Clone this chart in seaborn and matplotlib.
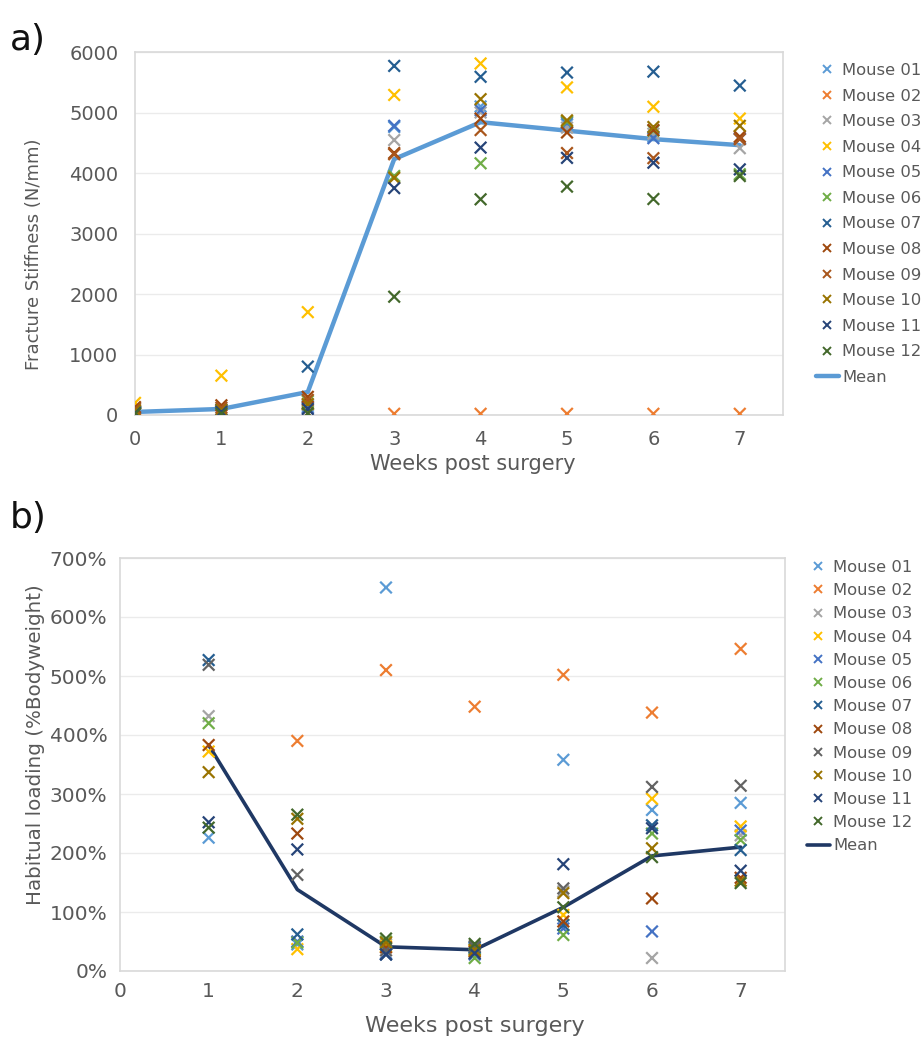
import numpy as np
import pandas as pd
import matplotlib
matplotlib.use("Agg")
import matplotlib.pyplot as plt
from matplotlib.lines import Line2D
import seaborn as sns

sns.set_theme(style="white")
plt.rcParams["font.family"] = ["DejaVu Sans"]

# ---------------------------------------------------------------- data
mice = [f"Mouse {i:02d}" for i in range(1, 13)]

weeks_a = [0, 1, 2, 3, 4, 5, 6, 7]
# fracture stiffness (N/mm), one list per week, values for Mouse 01..12
stiff_w0 = [40, 20, 50, 200, 60, 40, 50, 130, 100, 70, 30, 20]
stiff_w1 = [80, 30, 70, 650, 60, 50, 90, 160, 120, 80, 50, 20]
stiff_w2 = [150, 30, 180, 1700, 120, 230, 800, 300, 250, 180, 100, 30]
stiff_w3 = [4760, 20, 4545, 5290, 4780, 3950, 5770, 4330, 4310, 3920, 3750, 1955]
stiff_w4 = [5100, 20, 5000, 5810, 5040, 4160, 5590, 4900, 4710, 5220, 4420, 3565]
stiff_w5 = [4800, 20, 4750, 5415, 4830, 4850, 5660, 4670, 4330, 4870, 4250, 3775]
stiff_w6 = [4600, 20, 4650, 5095, 4575, 4700, 5675, 4710, 4245, 4760, 4170, 3570]
stiff_w7 = [4560, 20, 4410, 4900, 4570, 3980, 5445, 4600, 4560, 4780, 4060, 3950]
stiff_mean = [50, 100, 380, 4230, 4840, 4700, 4560, 4460]

weeks_b = [1, 2, 3, 4, 5, 6, 7]
# habitual loading (% bodyweight), one list per week, Mouse 01..12
load_w1 = [226, np.nan, 432, 372, np.nan, 420, 527, 383, 519, 337, 252, 243]
load_w2 = [45, 390, np.nan, 37, 50, 48, 62, 233, 163, 258, 206, 265]
load_w3 = [650, 510, 45, 42, 30, 50, 28, 40, 35, 48, 28, 55]
load_w4 = [38, 448, 30, 35, 28, 22, 40, 33, 42, 36, 30, 46]
load_w5 = [358, 502, 135, 95, 72, 61, 78, 84, 140, 132, 181, 108]
load_w6 = [273, 438, 22, 292, 67, 233, 247, 123, 312, 208, 242, 193]
load_w7 = [285, 546, 230, 245, 238, 222, 205, 158, 314, 153, 170, 149]
load_mean = [383, 138, 41, 36, 108, 195, 210]

colors_a = ["#5B9BD5", "#ED7D31", "#A5A5A5", "#FFC000", "#4472C4", "#70AD47",
            "#255E91", "#9E480E", "#A9561C", "#997300", "#264478", "#43682B"]
colors_b = ["#5B9BD5", "#ED7D31", "#A5A5A5", "#FFC000", "#4472C4", "#70AD47",
            "#255E91", "#9E480E", "#636363", "#997300", "#264478", "#43682B"]
mean_color_a = "#5B9BD5"
mean_color_b = "#1F3864"

stiff_table = [stiff_w0, stiff_w1, stiff_w2, stiff_w3, stiff_w4, stiff_w5, stiff_w6, stiff_w7]
load_table = [load_w1, load_w2, load_w3, load_w4, load_w5, load_w6, load_w7]


def long_frame(weeks, table):
    rows = []
    for w, vals in zip(weeks, table):
        for m, v in zip(mice, vals):
            rows.append({"week": w, "mouse": m, "value": v})
    return pd.DataFrame(rows).dropna()


df_a = long_frame(weeks_a, stiff_table)
df_b = long_frame(weeks_b, load_table)
mean_a = pd.DataFrame({"week": weeks_a, "value": stiff_mean})
mean_b = pd.DataFrame({"week": weeks_b, "value": load_mean})

# ---------------------------------------------------------------- figure
W, H = 924, 1037
fig = plt.figure(figsize=(W / 100, H / 100), dpi=100)
fig.patch.set_facecolor("white")

text_color = "#595959"
grid_color = "#EBEBEB"
spine_color = "#D9D9D9"


def style_axes(ax, tick_fs, xpad, ypad):
    for s in ax.spines.values():
        s.set_color(spine_color)
        s.set_linewidth(1.2)
    ax.tick_params(axis="both", length=0, labelsize=tick_fs, colors=text_color)
    ax.tick_params(axis="x", pad=xpad)
    ax.tick_params(axis="y", pad=ypad)
    ax.yaxis.grid(True, color=grid_color, linewidth=1)
    ax.xaxis.grid(False)
    ax.set_axisbelow(True)


def make_legend(ax, colors, mean_color, mean_lw, anchor, spacing):
    handles = [Line2D([], [], linestyle="none", marker="x", markersize=6,
                      markeredgewidth=1.4, color=c) for c in colors]
    handles.append(Line2D([], [], color=mean_color, linewidth=mean_lw))
    leg = ax.legend(handles, mice + ["Mean"], loc="upper left",
                    bbox_to_anchor=anchor, bbox_transform=fig.transFigure,
                    frameon=False, fontsize=11.8, handlelength=1.4,
                    handletextpad=0.2, labelspacing=spacing, borderpad=0,
                    borderaxespad=0)
    for t in leg.get_texts():
        t.set_color(text_color)


# a) fracture stiffness
ax1 = fig.add_axes([135 / W, 1 - 415 / H, (783 - 135) / W, (415 - 52) / H])
sns.lineplot(data=mean_a, x="week", y="value", color=mean_color_a, linewidth=3.2,
             ax=ax1, zorder=2)
sns.scatterplot(data=df_a, x="week", y="value", hue="mouse", hue_order=mice,
                palette=colors_a, marker="x", s=70, linewidth=1.6, legend=False,
                ax=ax1, zorder=3)
ax1.set_xlim(0, 7.5)
ax1.set_ylim(0, 6000)
ax1.set_xticks(range(0, 8))
ax1.set_yticks(range(0, 6001, 1000))
ax1.set_xlabel("Weeks post surgery", fontsize=15, color=text_color)
ax1.set_ylabel("Fracture Stiffness (N/mm)", fontsize=13, color=text_color)
ax1.xaxis.set_label_coords(0.522, -0.108)
ax1.yaxis.set_label_coords(-0.142, 0.4435)
style_axes(ax1, 14, 11, 12)
make_legend(ax1, colors_a, mean_color_a, 3.2, (816 / W, 1 - 63 / H), 0.645)

# b) habitual loading
ax2 = fig.add_axes([120 / W, 1 - 971 / H, (785 - 120) / W, (971 - 558) / H])
sns.lineplot(data=mean_b, x="week", y="value", color=mean_color_b, linewidth=2.6,
             ax=ax2, zorder=2)
sns.scatterplot(data=df_b, x="week", y="value", hue="mouse", hue_order=mice,
                palette=colors_b, marker="x", s=70, linewidth=1.6, legend=False,
                ax=ax2, zorder=3)
ax2.set_xlim(0, 7.5)
ax2.set_ylim(0, 700)
ax2.set_xticks(range(0, 8))
ax2.set_yticks(range(0, 701, 100))
ax2.set_yticklabels([f"{v}%" for v in range(0, 701, 100)])
ax2.set_xlabel("Weeks post surgery", fontsize=16, color=text_color)
ax2.set_ylabel("Habitual loading (%Bodyweight)", fontsize=14.3, color=text_color)
ax2.xaxis.set_label_coords(0.534, -0.108)
ax2.yaxis.set_label_coords(-0.113, 0.547)
style_axes(ax2, 14.5, 8, 9)
make_legend(ax2, colors_b, mean_color_b, 2.6, (807 / W, 1 - 560 / H), 0.50)

# panel letters
fig.text(10 / W, 1 - 50 / H, "a)", fontsize=26, color="#111111", ha="left", va="baseline")
fig.text(10 / W, 1 - 528 / H, "b)", fontsize=26, color="#111111", ha="left", va="baseline")

fig.savefig("out.png", dpi=100, facecolor="white")
